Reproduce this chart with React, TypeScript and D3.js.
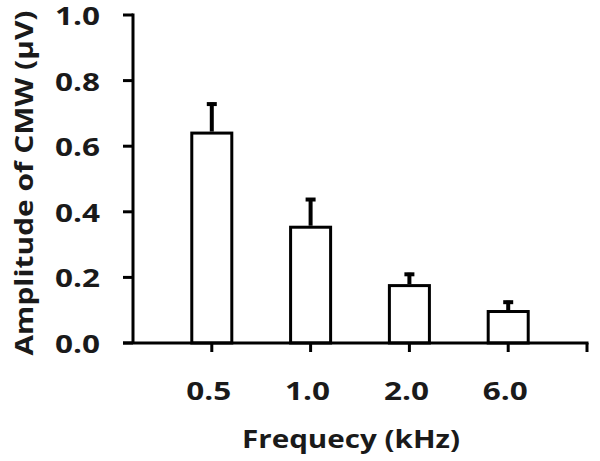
import React, { useEffect, useRef } from "react";
import * as d3 from "d3";

const frequencies = ["0.5", "1.0", "2.0", "6.0"];
const amplitudes = [0.64, 0.353, 0.175, 0.096];
const errorTops = [0.733, 0.442, 0.214, 0.129];
const yTicks = [0, 0.2, 0.4, 0.6, 0.8, 1.0];

const W = 600;
const H = 461;

const App = () => {
  const svgRef = useRef<SVGSVGElement>(null);

  useEffect(() => {
    const margin = { top: 15, right: 13, bottom: 118, left: 133 };
    const svg = d3.select(svgRef.current);
    svg.selectAll("*").remove();

    const font = "'Open Sans', 'DejaVu Sans', sans-serif";
    const ink = "#1a1a1a";

    const x = d3
      .scaleBand()
      .domain(frequencies)
      .range([margin.left, W - margin.right])
      .padding(0.595);
    const y = d3.scaleLinear().domain([0, 1]).range([H - margin.bottom, margin.top]);

    const g = svg.append("g");

    // bars
    g.selectAll("rect.bar")
      .data(frequencies)
      .join("rect")
      .attr("class", "bar")
      .attr("x", (d) => x(d)!)
      .attr("y", (d, i) => y(amplitudes[i]))
      .attr("width", x.bandwidth())
      .attr("height", (d, i) => y(0) - y(amplitudes[i]))
      .attr("fill", "#fff")
      .attr("stroke", "#000")
      .attr("stroke-width", 3);

    // error bars (upper only)
    frequencies.forEach((f, i) => {
      const cx = x(f)! + x.bandwidth() / 2;
      g.append("line")
        .attr("x1", cx)
        .attr("x2", cx)
        .attr("y1", y(amplitudes[i]) - 1.5)
        .attr("y2", y(errorTops[i]))
        .attr("stroke", "#000")
        .attr("stroke-width", 4);
      g.append("line")
        .attr("x1", cx - 5)
        .attr("x2", cx + 5)
        .attr("y1", y(errorTops[i]) + 1.5)
        .attr("y2", y(errorTops[i]) + 1.5)
        .attr("stroke", "#000")
        .attr("stroke-width", 4);
    });

    // y axis
    const y0 = y(0);
    g.append("line")
      .attr("x1", margin.left)
      .attr("x2", margin.left)
      .attr("y1", y(1) - 1.5)
      .attr("y2", y0)
      .attr("stroke", "#000")
      .attr("stroke-width", 3);
    g.selectAll("line.ytick")
      .data(yTicks)
      .join("line")
      .attr("class", "ytick")
      .attr("x1", margin.left - 10)
      .attr("x2", margin.left)
      .attr("y1", (d) => y(d))
      .attr("y2", (d) => y(d))
      .attr("stroke", "#000")
      .attr("stroke-width", 3);
    g.selectAll("text.ylab")
      .data(yTicks)
      .join("text")
      .attr("class", "ylab")
      .attr("x", margin.left - 33)
      .attr("y", (d) => y(d) + 10)
      .attr("text-anchor", "end")
      .attr("textLength", 45)
      .attr("lengthAdjust", "spacingAndGlyphs")
      .style("font-family", font)
      .style("font-weight", "bold")
      .style("font-size", "25px")
      .attr("fill", ink)
      .text((d) => d.toFixed(1));

    // x axis
    const xEnd = W - margin.right;
    g.append("line")
      .attr("x1", margin.left - 10)
      .attr("x2", xEnd + 1.5)
      .attr("y1", y0)
      .attr("y2", y0)
      .attr("stroke", "#000")
      .attr("stroke-width", 3);
    const xTickPos = frequencies.map((f) => x(f)! + x.bandwidth() / 2).concat([xEnd]);
    g.selectAll("line.xtick")
      .data(xTickPos)
      .join("line")
      .attr("class", "xtick")
      .attr("x1", (d) => d)
      .attr("x2", (d) => d)
      .attr("y1", y0)
      .attr("y2", y0 + 9)
      .attr("stroke", "#000")
      .attr("stroke-width", 3);
    g.selectAll("text.xlab")
      .data(frequencies)
      .join("text")
      .attr("class", "xlab")
      .attr("x", (d) => x(d)! + x.bandwidth() / 2 - 3)
      .attr("y", 400)
      .attr("text-anchor", "middle")
      .attr("textLength", 45)
      .attr("lengthAdjust", "spacingAndGlyphs")
      .style("font-family", font)
      .style("font-weight", "bold")
      .style("font-size", "25px")
      .attr("fill", ink)
      .text((d) => d);

    // titles
    g.append("text")
      .attr("x", 351)
      .attr("y", 448)
      .attr("text-anchor", "middle")
      .attr("textLength", 218)
      .attr("lengthAdjust", "spacingAndGlyphs")
      .style("font-family", font)
      .style("font-weight", "bold")
      .style("font-size", "25px")
      .attr("fill", ink)
      .text("Frequecy (kHz)");
    g.append("text")
      .attr("transform", "translate(33,183) rotate(-90)")
      .attr("text-anchor", "middle")
      .attr("textLength", 345)
      .attr("lengthAdjust", "spacingAndGlyphs")
      .style("font-family", font)
      .style("font-weight", "bold")
      .style("font-size", "25px")
      .attr("fill", ink)
      .text("Amplitude of CMW (μV)");
  }, []);

  return (
    <svg
      ref={svgRef}
      width={W}
      height={H}
      style={{ position: "absolute", left: 0, top: 0, background: "#fff" }}
    ></svg>
  );
};

export default App;
